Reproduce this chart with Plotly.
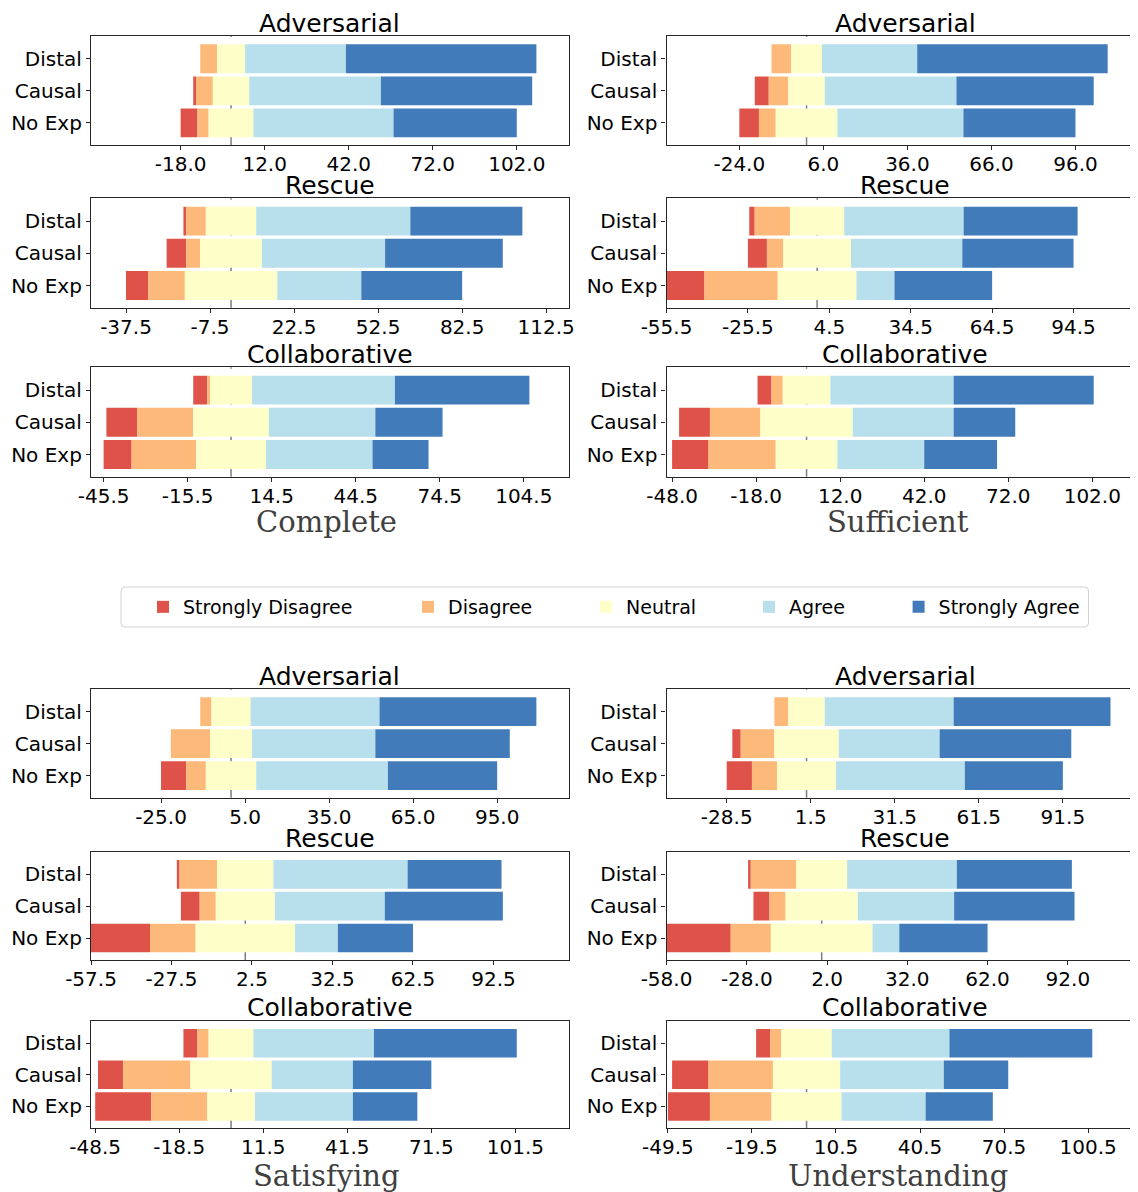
import plotly.graph_objects as go

# ---------------- data (counts per answer: SD, D, N, A, SA) ----------------
levels = ["Strongly Disagree", "Disagree", "Neutral", "Agree", "Strongly Agree"]
colors = ["#df5249", "#fdb97a", "#fefec9", "#b8dfec", "#427bb9"]
conditions = ["Distal", "Causal", "No Exp"]
scenarios = ["Adversarial", "Rescue", "Collaborative"]
questions = ["Complete", "Sufficient", "Satisfying", "Understanding"]

complete_adversarial = [[0, 6, 10, 36, 68], [1, 6, 13, 47, 54], [6, 4, 16, 50, 44]]
complete_rescue = [[1, 7, 18, 55, 40], [7, 5, 22, 44, 42], [8, 13, 33, 30, 36]]
complete_collaborative = [[5, 1, 15, 51, 48], [11, 20, 27, 38, 24], [10, 23, 25, 38, 20]]

sufficient_adversarial = [[0, 7, 11, 34, 68], [5, 7, 13, 47, 49], [7, 6, 22, 45, 40]]
sufficient_rescue = [[2, 13, 20, 44, 42], [7, 6, 25, 41, 41], [14, 27, 29, 14, 36]]
sufficient_collaborative = [[5, 4, 17, 44, 50], [11, 18, 33, 36, 22], [13, 24, 22, 31, 26]]

satisfying_adversarial = [[0, 4, 14, 46, 56], [0, 14, 15, 44, 48], [9, 7, 18, 47, 39]]
satisfying_rescue = [[1, 14, 21, 50, 35], [7, 6, 22, 41, 44], [22, 17, 37, 16, 28]]
satisfying_collaborative = [[5, 4, 16, 43, 51], [9, 24, 29, 29, 28], [20, 20, 17, 35, 23]]

understanding_adversarial = [[0, 5, 13, 46, 56], [3, 12, 23, 36, 47], [9, 9, 21, 46, 35]]
understanding_rescue = [[1, 17, 19, 41, 43], [6, 6, 27, 36, 45], [24, 15, 38, 10, 33]]
understanding_collaborative = [[5, 4, 18, 42, 51], [13, 23, 24, 37, 23], [15, 22, 25, 30, 24]]

# ---------------- geometry (page pixels; the page body adds an 8 px offset) ----------------
OFF = 8
PAGE_W, PAGE_H = 1138, 1192
W, H = PAGE_W - OFF, PAGE_H - OFF
col_px = [(91.0, 568.6), (666.5, 1138.0)]
full_w = col_px[0][1] - col_px[0][0]
row_px = [[(36, 145), (198.3, 307.7), (367.3, 476.7)],
          [(689, 797.7), (851.7, 960), (1020.7, 1128.3)]]

panels = [
    ("Complete", 0, 0, [complete_adversarial, complete_rescue, complete_collaborative]),
    ("Sufficient", 0, 1, [sufficient_adversarial, sufficient_rescue, sufficient_collaborative]),
    ("Satisfying", 1, 0, [satisfying_adversarial, satisfying_rescue, satisfying_collaborative]),
    ("Understanding", 1, 1, [understanding_adversarial, understanding_rescue, understanding_collaborative]),
]

def px_x(p):
    return min(1.0, (p - OFF) / W)

def px_y(p):
    return 1 - (p - OFF) / H

legend_ids = ["legend", "legend2", "legend3", "legend4", "legend5"]
ypos = [2, 1, 0]
axis_color = "#262626"

fig = go.Figure()
shapes = []
annotations = []
layout = dict(
    width=W, height=H,
    margin=dict(l=0, r=0, t=0, b=0, pad=0, autoexpand=False),
    paper_bgcolor="white", plot_bgcolor="white",
    barmode="overlay",
    font=dict(family="DejaVu Sans", size=20, color="black"),
    showlegend=True,
)

k = 0
for q, block, col, data3 in panels:
    x0p, x1p = col_px[col]
    for r, scen in enumerate(scenarios):
        k += 1
        data = data3[r]
        xref = "x" if k == 1 else f"x{k}"
        yref = "y" if k == 1 else f"y{k}"
        xa = "xaxis" if k == 1 else f"xaxis{k}"
        ya = "yaxis" if k == 1 else f"yaxis{k}"
        top, bot = row_px[block][r]

        middles = [row[0] + row[1] + row[2] / 2 for row in data]
        longest = max(middles)
        lo = min(-50.0, -longest)
        hi = 120.5
        hi_vis = lo + (hi - lo) * (x1p - x0p) / full_w
        tickvals = []
        t = -longest
        while t <= hi:
            tickvals.append(t)
            t += 30
        ticktext = [f"{v:.1f}" for v in tickvals]

        for j, lev in enumerate(levels):
            widths = [data[c][j] for c in range(3)]
            starts = [-middles[c] + sum(data[c][:j]) for c in range(3)]
            fig.add_trace(go.Bar(
                x=widths, base=starts, y=ypos, orientation="h", width=0.9,
                marker=dict(color=colors[j], line=dict(width=0)),
                name=lev, legendgroup=lev, legend=legend_ids[j],
                showlegend=(k == 1),
                xaxis=xref, yaxis=yref,
                customdata=conditions,
                hovertemplate=f"{q} / {scen}<br>%{{customdata}}<br>{lev}: %{{x}}<extra></extra>",
            ))

        layout[xa] = dict(
            domain=[px_x(x0p), px_x(x1p)], anchor=yref,
            range=[lo, hi_vis], tickvals=tickvals, ticktext=ticktext,
            showgrid=False, zeroline=False, automargin=False,
            showline=True, linecolor=axis_color, linewidth=1.2, mirror=True,
            ticks="outside", ticklen=4, tickwidth=1.2, tickcolor=axis_color,
            ticklabelstandoff=-3,
            tickfont=dict(size=20, color="black"), fixedrange=True,
        )
        layout[ya] = dict(
            domain=[px_y(bot), px_y(top)], anchor=xref,
            range=[-0.69, 2.71], tickvals=ypos, ticktext=conditions,
            showgrid=False, zeroline=False, automargin=False,
            showline=True, linecolor=axis_color, linewidth=1.2,
            mirror=(col == 0),
            ticks="outside", ticklen=4, tickwidth=1.2, tickcolor=axis_color,
            tickfont=dict(size=20, color="black"), fixedrange=True,
        )
        shapes.append(dict(
            type="line", xref=xref, yref=f"{yref} domain",
            x0=0, x1=0, y0=0, y1=1, layer="below",
            line=dict(color="rgba(0,0,0,0.5)", width=1.5, dash="dash"),
        ))
        annotations.append(dict(
            text=scen, xref="paper", yref="paper",
            x=px_x(col_px[col][0] + full_w / 2), y=px_y(top - 13),
            xanchor="center", yanchor="middle", showarrow=False,
            font=dict(size=25, color="black"),
        ))
    # group label
    lbl_x = 326 if col == 0 else 898
    lbl_y = 522 if block == 0 else 1176
    annotations.append(dict(
        text=q, xref="paper", yref="paper", x=px_x(lbl_x), y=px_y(lbl_y),
        xanchor="center", yanchor="middle", showarrow=False,
        font=dict(family="DejaVu Serif", size=29, color="#404040"),
    ))

# legend frame (rounded rectangle)
lx0, lx1, ly0, ly1 = px_x(121), px_x(1088.5), px_y(627), px_y(587)
rx, ry = 4 / W, 4 / H
path = (f"M{lx0+rx},{ly1} L{lx1-rx},{ly1} Q{lx1},{ly1} {lx1},{ly1-ry} "
        f"L{lx1},{ly0+ry} Q{lx1},{ly0} {lx1-rx},{ly0} L{lx0+rx},{ly0} "
        f"Q{lx0},{ly0} {lx0},{ly0+ry} L{lx0},{ly1-ry} Q{lx0},{ly1} {lx0+rx},{ly1} Z")
shapes.append(dict(type="path", path=path, xref="paper", yref="paper",
                   line=dict(color="#d0d0d0", width=1), fillcolor="white", layer="above"))

text_starts = [183, 448, 626, 789, 938.6]
for lid, ts in zip(legend_ids, text_starts):
    layout[lid] = dict(
        x=px_x(ts - 40), y=px_y(607), xanchor="left", yanchor="middle",
        orientation="h", bgcolor="rgba(0,0,0,0)", borderwidth=0,
        font=dict(size=19, color="black"),
    )

layout["shapes"] = shapes
layout["annotations"] = annotations
fig.update_layout(**layout)
fig.write_html("out.html")
